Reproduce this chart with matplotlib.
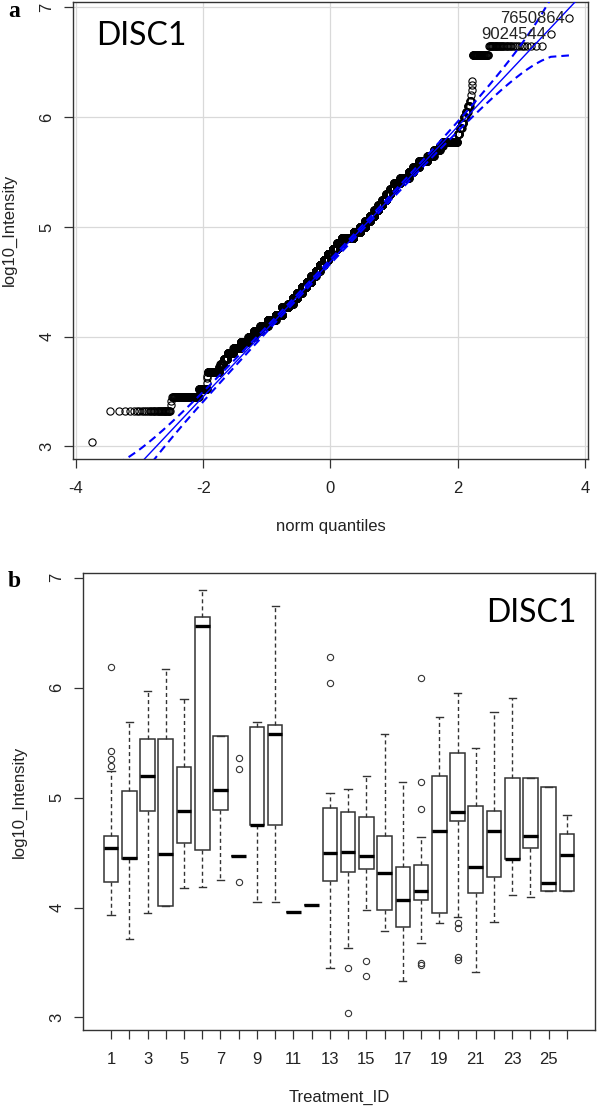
import numpy as np
import matplotlib
matplotlib.use('Agg')
import matplotlib.pyplot as plt
from statistics import NormalDist

plt.rcParams['font.family'] = ['Liberation Sans', 'DejaVu Sans']
plt.rcParams['axes.unicode_minus'] = False

# panel a: log10 intensities, as value + how many times it occurs
qq_values = [3.04, 3.32, 3.38, 3.41, 3.45, 3.52, 3.58, 3.62, 3.64, 3.68,
             3.72, 3.75, 3.80, 3.85, 3.90, 3.95,
             4.00, 4.05, 4.10, 4.15, 4.20, 4.27, 4.30, 4.35, 4.40, 4.45,
             4.50, 4.55, 4.60, 4.65, 4.70, 4.75, 4.80, 4.85, 4.90, 4.95,
             5.00, 5.05, 5.10, 5.15, 5.20, 5.25, 5.30, 5.35, 5.40, 5.45,
             5.50, 5.55, 5.60, 5.65, 5.70, 5.74,
             5.77, 5.85, 5.90, 5.95, 6.00, 6.05, 6.10, 6.15, 6.20, 6.25,
             6.29, 6.33, 6.57, 6.65, 6.755, 6.90]
qq_counts = [1, 32, 1, 1, 72, 39, 1, 1, 1, 75,
             10, 25, 36, 61, 86, 109,
             89, 116, 149, 182, 165, 168, 127, 132, 144, 154,
             158, 145, 140, 139, 146, 168, 167, 166, 384, 211,
             161, 138, 126, 107, 104, 97, 92, 87, 124, 149,
             70, 84, 102, 65, 52, 23,
             89, 10, 9, 8, 8, 7, 7, 4, 1, 1,
             1, 1, 36, 34, 1, 1]
qq_ids = ['9024544', '7650864']   # ids of the two largest points

# panel b: boxplot stats per treatment
treatment_id = list(range(1, 27))
whis_lo = [3.93, 3.71, 3.95, 4.01, 4.18, 4.19, 4.25, 4.47, 4.05, 4.05, 3.96, 4.02, 3.45,
           3.63, 3.98, 3.79, 3.33, 3.68, 3.86, 3.91, 3.41, 3.87, 4.11, 4.10, 4.15, 4.15]
q1 = [4.23, 4.44, 4.88, 4.01, 4.59, 4.52, 4.89, 4.47, 4.75, 4.75, 3.96, 4.02, 4.24,
      4.32, 4.35, 3.98, 3.82, 4.07, 3.95, 4.79, 4.13, 4.28, 4.44, 4.54, 4.15, 4.15]
med = [4.54, 4.45, 5.20, 4.49, 4.88, 6.56, 5.07, 4.47, 4.75, 5.58, 3.96, 4.02, 4.50,
       4.51, 4.47, 4.31, 4.07, 4.15, 4.70, 4.87, 4.37, 4.70, 4.44, 4.65, 4.22, 4.48]
q3 = [4.65, 5.06, 5.53, 5.53, 5.28, 6.64, 5.56, 4.47, 5.64, 5.66, 3.96, 4.02, 4.91,
      4.87, 4.82, 4.65, 4.37, 4.39, 5.20, 5.41, 4.92, 4.88, 5.18, 5.18, 5.10, 4.67]
whis_hi = [5.24, 5.69, 5.97, 6.17, 5.90, 6.89, 5.56, 4.47, 5.69, 6.74, 3.96, 4.02, 5.04,
           5.08, 5.20, 5.58, 5.14, 4.64, 5.73, 5.95, 5.45, 5.78, 5.91, 5.18, 5.10, 4.84]
outliers = {1: [5.29, 5.35, 5.42, 6.19],
            8: [5.36, 5.26, 4.23],
            13: [6.28, 6.04],
            14: [3.45, 3.04],
            15: [3.51, 3.38],
            18: [6.09, 5.14, 4.90, 3.50, 3.48],
            20: [3.86, 3.81, 3.55, 3.52]}

W, H = 597, 1108
txt = '#222222'
edge = '#333333'

fig = plt.figure(figsize=(W / 100, H / 100), dpi=100)

#%% panel a - normal QQ plot (car::qqPlot style)
nd = NormalDist()
y = np.sort(np.repeat(qq_values, qq_counts))
n = len(y)
P = (np.arange(1, n + 1) - 0.5) / n
z = np.array([nd.inv_cdf(p) for p in P])

qy = np.quantile(y, [0.25, 0.75])
qz = np.array([nd.inv_cdf(0.25), nd.inv_cdf(0.75)])
b = (qy[1] - qy[0]) / (qz[1] - qz[0])
a = qy[0] - b * qz[0]
fit = a + b * z
dens = np.array([nd.pdf(v) for v in z])
se = b / dens * np.sqrt(P * (1 - P) / n)
zz = nd.inv_cdf(0.975)

axa = fig.add_axes([73 / W, 1 - 459 / H, 515 / W, 457.5 / H])
axa.grid(True, color='#d9d9d9', lw=0.9, zorder=0)
axa.set_axisbelow(True)
axa.plot(z, y, 'o', mfc='none', mec='black', ms=5.2, mew=0.8, zorder=2)
axa.axline((0, a), slope=b, color='blue', lw=1.0, zorder=3)
axa.plot(z, fit + zz * se, color='blue', lw=1.5, ls=(0, (3.8, 2.4)), zorder=3)
axa.plot(z, fit - zz * se, color='blue', lw=1.5, ls=(0, (3.8, 2.4)), zorder=3)

for zi, yi, lab in zip(z[-2:], y[-2:], qq_ids):
    axa.annotate(lab, (zi, yi), xytext=(-3, 0), textcoords='offset points',
                 ha='right', va='center', fontsize=12, color=txt)

zr = z.max() - z.min()
yr = y.max() - y.min()
axa.set_xlim(z.min() - 0.04 * zr, z.max() + 0.04 * zr)
axa.set_ylim(y.min() - 0.04 * yr, y.max() + 0.04 * yr)
axa.set_xticks([-4, -2, 0, 2, 4])
axa.set_yticks([3, 4, 5, 6, 7])
axa.set_xlabel('norm quantiles', fontsize=12, color=txt, va='center')
axa.xaxis.set_label_coords(0.5, -68 / 457.5)
axa.set_ylabel('log10_Intensity', fontsize=12, color=txt, va='center')
axa.yaxis.set_label_coords((9 - 73) / 515, 0.5)

#%% panel b - boxplot by treatment
stats = []
for i, t in enumerate(treatment_id):
    stats.append(dict(med=med[i], q1=q1[i], q3=q3[i], whislo=whis_lo[i],
                      whishi=whis_hi[i], fliers=outliers.get(t, [])))

axb = fig.add_axes([83 / W, 1 - 1030 / H, 512 / W, 457 / H])
axb.bxp(stats, positions=treatment_id, widths=0.8, patch_artist=True, manage_ticks=False,
        boxprops=dict(facecolor='white', edgecolor=edge, lw=1.1),
        medianprops=dict(color='black', lw=2.4, solid_capstyle='butt'),
        whiskerprops=dict(color=edge, lw=1.0, ls=(0, (2.9, 2.2))),
        capprops=dict(color=edge, lw=1.0),
        flierprops=dict(marker='o', mfc='none', mec=edge, ms=4.5, mew=0.8))

allv = whis_lo + whis_hi + [v for vals in outliers.values() for v in vals]
lo, hi = min(allv), max(allv)
axb.set_xlim(0.5 - 0.04 * 26, 26.5 + 0.04 * 26)
axb.set_ylim(lo - 0.04 * (hi - lo), hi + 0.04 * (hi - lo))
axb.set_xticks(treatment_id)
axb.set_xticklabels([str(t) if t % 2 else '' for t in treatment_id])
axb.set_yticks([3, 4, 5, 6, 7])
axb.set_xlabel('Treatment_ID', fontsize=12, color=txt, va='center')
axb.xaxis.set_label_coords(0.5, -67 / 457)
axb.set_ylabel('log10_Intensity', fontsize=12, color=txt, va='center')
axb.yaxis.set_label_coords((19 - 83) / 512, 0.5)

for ax in (axa, axb):
    for s in ax.spines.values():
        s.set_color(edge)
        s.set_linewidth(1.0)
    ax.tick_params(direction='out', length=6.5, width=0.9, color=edge,
                   labelsize=12, labelcolor=txt)
    ax.tick_params(axis='x', pad=9)
    ax.tick_params(axis='y', pad=7)
    for lbl in ax.get_yticklabels():
        lbl.set_rotation(90)
        lbl.set_va('center')

# panel letters and gene names
fig.text(14 / W, 1 - 17 / H, 'a', family='Liberation Serif', weight='bold',
         fontsize=17, ha='center', va='baseline')
fig.text(14 / W, 1 - 587 / H, 'b', family='Liberation Serif', weight='bold',
         fontsize=17, ha='center', va='baseline')
fig.text(96 / W, 1 - 45 / H, 'DISC1', family='Lato', fontsize=23, color='black',
         ha='left', va='baseline')
fig.text(486 / W, 1 - 622 / H, 'DISC1', family='Lato', fontsize=23, color='black',
         ha='left', va='baseline')

fig.savefig('out.png', dpi=100)
